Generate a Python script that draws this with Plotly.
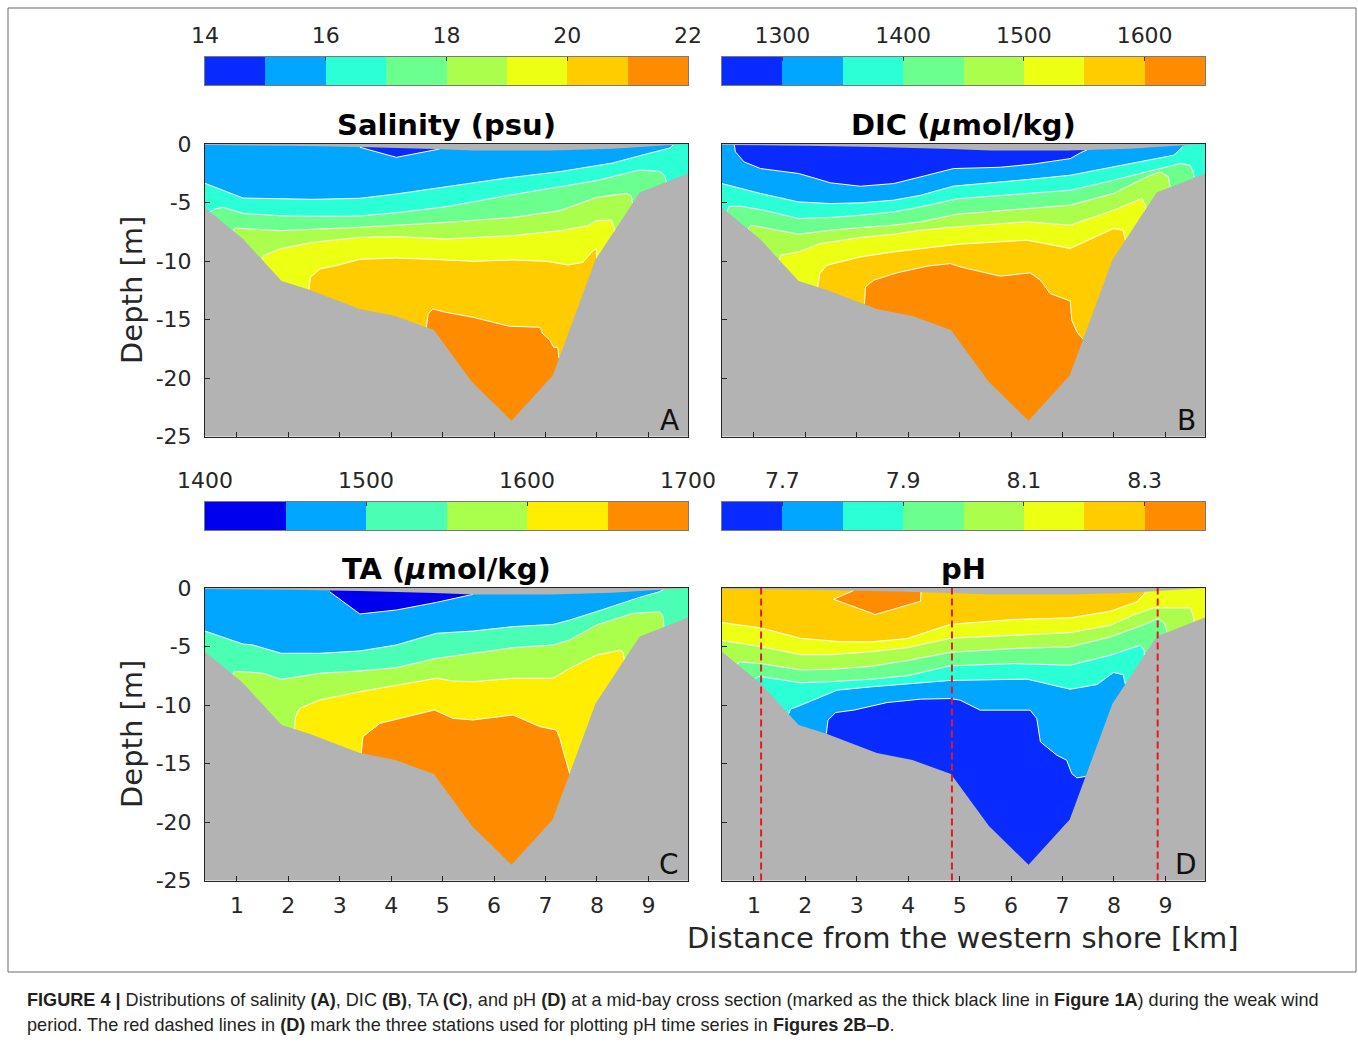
import plotly.graph_objects as go

# ======================= DATA =======================
# Bathymetry (bottom) and water-surface line, shared by all panels [km, m]
bathy_x = [0.38, 1.12, 1.87, 2.41, 3.39, 4.08, 4.83, 5.57, 6.34, 7.14, 7.97, 8.83, 9.77]
bathy_d = [-5.45, -8.12, -11.72, -12.45, -14.10, -14.70, -15.90, -20.35, -23.65, -19.78, -9.90, -4.15, -2.52]
surf_x = [0.38, 2.0, 3.39, 4.84, 5.6, 7.1, 8.3, 9.29, 9.77]
surf_d = [-0.08, -0.15, -0.25, -0.42, -0.55, -0.55, -0.4, -0.12, 0.0]

# ---- Salinity (psu): contour lines (depth of each isohaline) ----
sal_levels = [14, 15, 16, 17, 18, 19, 20, 21, 22]
sal_ticks = [14, 16, 18, 20, 22]
sal_lens_x = [3.39, 4.10, 4.94]                       # < 15 psu lens at the surface
sal_lens_d = [-0.28, -1.14, -0.43]
sal_16_x = [0.38, 1.12, 2.48, 3.39, 4.10, 5.07, 6.24, 7.28, 8.31, 8.96, 9.42, 9.48]
sal_16_d = [-3.36, -4.62, -4.73, -4.64, -4.27, -3.65, -2.91, -2.36, -1.62, -0.85, -0.34, -0.06]
sal_17_x = [0.47, 0.57, 0.73, 1.12, 1.83, 2.61, 3.39, 4.10, 5.07, 6.24, 7.28, 7.99, 8.83, 9.22, 9.32, 9.35]
sal_17_d = [-5.85, -5.56, -5.41, -5.93, -6.13, -6.18, -6.15, -5.87, -5.36, -4.42, -3.65, -3.13, -2.22, -2.34, -2.71, -3.30]
sal_18_x = [0.92, 0.96, 1.83, 3.39, 5.07, 6.37, 7.28, 7.99, 8.57, 8.67, 8.69]
sal_18_d = [-7.46, -7.18, -7.41, -7.12, -6.70, -6.27, -5.70, -4.56, -4.22, -4.42, -5.10]
sal_19_x = [1.49, 1.51, 1.83, 2.48, 3.39, 4.10, 5.07, 6.37, 7.28, 7.83, 7.99, 8.28, 8.35, 8.33]
sal_19_d = [-9.91, -9.57, -8.97, -8.40, -7.98, -7.92, -8.12, -7.83, -7.41, -6.98, -6.55, -6.50, -7.27, -7.55]
sal_20_x = [2.40, 2.43, 2.61, 2.93, 3.39, 4.10, 5.07, 5.59, 6.37, 7.02, 7.44, 7.73, 7.92, 7.99, 8.00]
sal_20_d = [-12.45, -11.40, -10.68, -10.40, -9.86, -9.74, -9.91, -10.03, -9.91, -10.03, -10.34, -10.11, -9.12, -8.97, -9.80]
sal_21_x = [4.68, 4.72, 4.81, 5.07, 5.59, 6.30, 6.56, 6.89, 6.95, 7.08, 7.16, 7.24, 7.26]
sal_21_d = [-15.70, -14.53, -14.10, -14.39, -14.81, -15.58, -15.61, -15.67, -16.24, -16.75, -17.38, -17.38, -18.30]

# ---- DIC (umol/kg) ----
dic_levels = [1250, 1300, 1350, 1400, 1450, 1500, 1550, 1600, 1650]
dic_ticks = [1300, 1400, 1500, 1600]
dic_lens_x = [0.62, 0.64, 0.81, 1.13, 1.87, 2.49, 3.07, 3.72, 4.24, 4.88, 5.79, 6.44, 7.15, 7.35, 7.57]
dic_lens_d = [-0.10, -0.67, -1.53, -2.10, -2.52, -3.32, -3.61, -3.38, -2.81, -2.10, -1.99, -1.71, -1.25, -0.75, -0.30]
dic_1350_x = [0.38, 1.13, 1.87, 2.49, 3.07, 3.72, 4.24, 4.88, 6.31, 7.15, 7.99, 8.64, 9.16, 9.35]
dic_1350_d = [-3.38, -4.23, -4.95, -5.09, -5.03, -4.80, -4.38, -3.60, -3.04, -2.67, -1.95, -1.38, -0.96, -0.19]
dic_1400_x = [0.48, 0.52, 0.74, 1.19, 1.87, 2.49, 3.07, 3.72, 4.24, 4.95, 6.31, 7.15, 7.99, 8.64, 9.29, 9.48, 9.54, 9.56]
dic_1400_d = [-5.77, -5.32, -5.32, -5.66, -6.37, -6.28, -6.09, -5.80, -5.37, -4.68, -4.23, -3.95, -3.09, -2.38, -1.67, -1.81, -2.38, -2.85]
dic_1450_x = [0.87, 0.94, 1.87, 2.49, 3.07, 3.72, 4.24, 4.95, 6.31, 7.15, 7.99, 8.64, 8.90, 9.06, 9.09]
dic_1450_d = [-7.42, -6.94, -7.71, -7.37, -7.14, -6.94, -6.65, -6.00, -5.52, -5.23, -4.23, -2.81, -2.38, -2.81, -3.70]
dic_1500_x = [1.49, 1.52, 1.87, 2.29, 3.07, 3.72, 4.24, 4.95, 6.31, 7.15, 7.99, 8.54, 8.61, 8.62]
dic_1500_d = [-10.00, -9.50, -9.22, -8.51, -7.99, -7.71, -7.37, -7.08, -6.65, -6.94, -5.66, -4.66, -5.23, -5.60]
dic_1550_x = [2.24, 2.28, 2.42, 3.07, 3.72, 4.24, 4.95, 6.31, 7.15, 7.99, 8.18, 8.22]
dic_1550_d = [-12.22, -11.07, -10.36, -9.65, -9.22, -8.93, -8.58, -8.22, -8.93, -7.23, -7.37, -8.20]
dic_1600_x = [3.15, 3.17, 3.33, 3.78, 4.37, 4.82, 5.01, 5.79, 6.37, 6.57, 6.76, 7.15, 7.18, 7.28, 7.40]
dic_1600_d = [-13.65, -12.21, -11.64, -11.01, -10.44, -10.22, -10.50, -11.30, -11.01, -11.64, -12.78, -13.41, -15.06, -16.06, -16.70]

# ---- TA (umol/kg) ----
ta_levels = [1400, 1450, 1500, 1550, 1600, 1650, 1700]
ta_ticks = [1400, 1500, 1600, 1700]
ta_lens_x = [2.80, 3.39, 4.10, 4.88, 5.59]
ta_lens_d = [-0.31, -2.22, -1.88, -1.23, -0.54]
ta_1500_x = [0.38, 1.12, 1.31, 1.86, 2.61, 3.39, 4.10, 4.88, 5.59, 6.37, 7.15, 7.47, 7.99, 8.83, 9.22, 9.32]
ta_1500_d = [-3.68, -4.79, -4.87, -5.58, -5.58, -5.38, -4.87, -3.87, -3.68, -3.30, -3.11, -2.74, -2.02, -0.80, -0.31, -0.03]
ta_1550_x = [0.92, 0.94, 1.12, 1.51, 1.86, 2.61, 3.39, 4.10, 4.88, 5.59, 6.37, 7.15, 7.47, 7.99, 8.70, 9.22, 9.29, 9.30]
ta_1550_d = [-7.49, -7.15, -7.15, -7.29, -7.81, -7.29, -7.09, -6.81, -6.01, -5.58, -5.10, -4.87, -4.44, -3.16, -2.17, -2.02, -2.45, -3.30]
ta_1600_x = [2.12, 2.14, 2.22, 2.61, 3.39, 4.10, 4.88, 5.20, 5.59, 6.37, 7.15, 7.47, 7.99, 8.44, 8.51, 8.53]
ta_1600_d = [-12.05, -11.00, -10.29, -9.57, -8.86, -8.29, -7.72, -7.95, -8.01, -7.72, -7.72, -6.87, -5.73, -5.33, -5.50, -6.15]
ta_1650_x = [3.42, 3.45, 3.78, 4.29, 4.84, 5.20, 5.59, 6.37, 6.89, 7.21, 7.28, 7.34, 7.47]
ta_1650_d = [-14.10, -12.71, -11.57, -11.00, -10.43, -11.14, -11.28, -10.85, -11.85, -12.14, -12.85, -13.85, -15.85]

# ---- pH ----
ph_levels = [7.6, 7.7, 7.8, 7.9, 8.0, 8.1, 8.2, 8.3, 8.4]
ph_ticks = [7.7, 7.9, 8.1, 8.3]
ph_lens_x = [2.94, 2.55, 3.36, 4.24, 4.25]             # > 8.3 lens at the surface
ph_lens_d = [-0.22, -0.96, -2.27, -1.13, -0.22]
ph_82_x = [0.38, 1.13, 1.91, 2.68, 3.27, 3.98, 4.82, 6.05, 7.15, 7.93, 8.44, 8.61, 8.63]
ph_82_d = [-2.95, -3.41, -4.30, -4.59, -4.60, -4.32, -3.10, -2.69, -2.55, -1.98, -1.19, -0.39, -0.19]
ph_81_x = [0.38, 1.13, 1.91, 2.49, 3.27, 3.98, 4.82, 6.05, 7.15, 7.93, 8.38, 8.77, 9.48, 9.54, 9.56]
ph_81_d = [-4.50, -5.00, -5.70, -5.70, -5.45, -5.10, -4.30, -4.03, -3.81, -3.18, -2.30, -1.70, -1.70, -2.32, -2.85]
ph_80_x = [0.68, 0.71, 1.13, 1.91, 2.49, 3.27, 3.98, 4.82, 6.05, 7.15, 7.93, 8.64, 8.86, 8.99, 9.03]
ph_80_d = [-6.54, -6.31, -6.46, -7.00, -6.95, -6.70, -6.20, -5.50, -5.17, -5.03, -4.18, -3.04, -2.61, -3.04, -3.80]
ph_79_x = [1.03, 1.07, 1.13, 1.91, 2.49, 3.27, 3.98, 4.82, 6.05, 7.15, 7.93, 8.51, 8.59, 8.59]
ph_79_d = [-7.79, -7.59, -7.57, -8.10, -8.00, -7.80, -7.50, -6.65, -6.46, -6.60, -5.74, -4.89, -5.32, -5.75]
ph_78_x = [1.68, 1.71, 1.91, 2.62, 3.27, 3.98, 4.82, 6.31, 7.15, 7.67, 7.99, 8.18, 8.22]
ph_78_d = [-10.73, -10.36, -10.02, -8.73, -8.45, -8.17, -7.90, -7.79, -8.65, -8.25, -7.22, -7.40, -8.20]
ph_77_x = [2.41, 2.44, 2.59, 2.94, 3.59, 4.24, 4.82, 5.01, 5.40, 6.37, 6.50, 6.57, 6.89, 7.08, 7.18, 7.28, 7.45]
ph_77_d = [-12.44, -11.30, -10.64, -10.44, -9.79, -9.50, -9.45, -9.59, -10.44, -10.44, -11.16, -13.15, -14.29, -14.72, -15.86, -16.23, -16.10]

stations_km = [1.14, 4.85, 8.85]   # red dashed lines in panel D

x_ticks = [1, 2, 3, 4, 5, 6, 7, 8, 9]
depth_ticks = [0, -5, -10, -15, -20, -25]

caption_1 = ("<b>FIGURE 4 |</b> Distributions of salinity <b>(A)</b>, DIC <b>(B)</b>, TA <b>(C)</b>, and pH <b>(D)</b> "
             "at a mid-bay cross section (marked as the thick black line in <b>Figure 1A</b>) during the weak wind")
caption_2 = ("period. The red dashed lines in <b>(D)</b> mark the three stations used for plotting pH time series in "
             "<b>Figures 2B–D</b>.")

# ======================= STYLE =======================
W, H = 1358, 1043
XMIN, XMAX = 0.38, 9.77
YMIN, YMAX = -25, 0
FLOOR = min(bathy_d) - 0.5      # colour fills stop just below the deepest bottom (hidden by the grey)
DEEP, CEIL = -40, 2
PAL8 = ['#0A2BFF', '#00A6FF', '#2AFFD6', '#6BFF8E', '#ABFF4C', '#EDFF12', '#FFCC00', '#FF8C00']
PAL6 = ['#0000EE', '#00A6FF', '#4AFFB3', '#AAFF4C', '#FFEE00', '#FF8C00']
GRAY = '#B3B3B3'
INK = '#262626'
FONT = 'DejaVu Sans'


def px(x):
    return x / W


def py(y):
    return 1 - y / H


def band_color(levels, pal, value):
    step = levels[1] - levels[0]
    i = int(round((value - levels[0]) / step - 0.5))
    return pal[max(0, min(len(pal) - 1, i))]


panels = [
    dict(title='<b>Salinity (psu)</b>', letter='A', levels=sal_levels, ticks=sal_ticks, pal=PAL8,
         base=15.5, lens=(sal_lens_x, sal_lens_d, 14.5), sign=+1,
         bounds=[(sal_16_x, sal_16_d, 16), (sal_17_x, sal_17_d, 17), (sal_18_x, sal_18_d, 18),
                 (sal_19_x, sal_19_d, 19), (sal_20_x, sal_20_d, 20), (sal_21_x, sal_21_d, 21)],
         box=(205, 688, 144, 436.5), cbar=(57, 85)),
    dict(title='<b>DIC (<i>μ</i>mol/kg)</b>', letter='B', levels=dic_levels, ticks=dic_ticks, pal=PAL8,
         base=1325, lens=(dic_lens_x, dic_lens_d, 1275), sign=+1,
         bounds=[(dic_1350_x, dic_1350_d, 1350), (dic_1400_x, dic_1400_d, 1400), (dic_1450_x, dic_1450_d, 1450),
                 (dic_1500_x, dic_1500_d, 1500), (dic_1550_x, dic_1550_d, 1550), (dic_1600_x, dic_1600_d, 1600)],
         box=(722, 1205, 144, 436.5), cbar=(57, 85)),
    dict(title='<b>TA (<i>μ</i>mol/kg)</b>', letter='C', levels=ta_levels, ticks=ta_ticks, pal=PAL6,
         base=1475, lens=(ta_lens_x, ta_lens_d, 1425), sign=+1,
         bounds=[(ta_1500_x, ta_1500_d, 1500), (ta_1550_x, ta_1550_d, 1550),
                 (ta_1600_x, ta_1600_d, 1600), (ta_1650_x, ta_1650_d, 1650)],
         box=(205, 688, 588, 880.5), cbar=(502, 530)),
    dict(title='<b>pH</b>', letter='D', levels=ph_levels, ticks=ph_ticks, pal=PAL8,
         base=8.25, lens=(ph_lens_x, ph_lens_d, 8.35), sign=-1,
         bounds=[(ph_82_x, ph_82_d, 8.2), (ph_81_x, ph_81_d, 8.1), (ph_80_x, ph_80_d, 8.0),
                 (ph_79_x, ph_79_d, 7.9), (ph_78_x, ph_78_d, 7.8), (ph_77_x, ph_77_d, 7.7)],
         box=(722, 1205, 588, 880.5), cbar=(502, 530)),
]


def below_poly(xs, ds):
    xs, ds = list(xs), list(ds)
    if ds[-1] > -0.5 and xs[-1] < XMAX:   # isoline reaches the surface: continue along the top
        xs, ds = xs + [XMAX], ds + [CEIL]
    return [xs[0]] + xs + [xs[-1]], [FLOOR] + ds + [FLOOR]


def above_poly(xs, ds):
    return [xs[0]] + list(xs) + [xs[-1]], [CEIL] + list(ds) + [CEIL]


fig = go.Figure()
shapes, annotations = [], []
layout = dict(width=W, height=H, autosize=False, margin=dict(l=0, r=0, t=0, b=0, pad=0),
              paper_bgcolor='white', plot_bgcolor='white', showlegend=False,
              font=dict(family=FONT, color=INK))

for k, p in enumerate(panels, start=1):
    xa, ya = ('x' if k == 1 else f'x{k}'), ('y' if k == 1 else f'y{k}')
    lv, pal, sign = p['levels'], p['pal'], p['sign']
    step = lv[1] - lv[0]
    x0p, x1p, y0p, y1p = p['box']

    # base colour of the section: the whole water column above the bottom
    fx, fy = above_poly(bathy_x, bathy_d)
    fig.add_trace(go.Scatter(x=fx, y=fy, xaxis=xa, yaxis=ya, mode='lines', fill='toself',
                             fillcolor=band_color(lv, pal, p['base']), line=dict(width=0), hoverinfo='skip'))

    lines = []
    lx, ld, lval = p['lens']
    fx, fy = above_poly(lx, ld)
    fig.add_trace(go.Scatter(x=fx, y=fy, xaxis=xa, yaxis=ya, mode='lines', fill='toself',
                             fillcolor=band_color(lv, pal, lval), line=dict(width=0), hoverinfo='skip'))
    lines.append((lx, ld))
    for bx, bd, level in p['bounds']:
        fx, fy = below_poly(bx, bd)
        fig.add_trace(go.Scatter(x=fx, y=fy, xaxis=xa, yaxis=ya, mode='lines', fill='toself',
                                 fillcolor=band_color(lv, pal, level + sign * step / 2),
                                 line=dict(width=0), hoverinfo='skip'))
        lines.append((bx, bd))
    for bx, bd in lines:
        fig.add_trace(go.Scatter(x=bx, y=bd, xaxis=xa, yaxis=ya, mode='lines',
                                 line=dict(color='white', width=1), hoverinfo='skip'))
    # bottom and surface
    fig.add_trace(go.Scatter(x=[bathy_x[0]] + bathy_x + [bathy_x[-1]], y=[DEEP] + bathy_d + [DEEP],
                             xaxis=xa, yaxis=ya, mode='lines', fill='toself', fillcolor=GRAY,
                             line=dict(width=0), hoverinfo='skip'))
    fig.add_trace(go.Scatter(x=[surf_x[0]] + surf_x + [surf_x[-1]], y=[CEIL] + surf_d + [CEIL],
                             xaxis=xa, yaxis=ya, mode='lines', fill='toself', fillcolor=GRAY,
                             line=dict(width=0), hoverinfo='skip'))

    showx = k in (3, 4)
    showy = k in (1, 3)
    layout['xaxis' if k == 1 else f'xaxis{k}'] = dict(
        domain=[px(x0p), px(x1p)], range=[XMIN, XMAX], anchor=ya, tickvals=x_ticks, automargin=False,
        ticks='inside', ticklen=5, tickcolor=INK, showline=True, linecolor=INK, linewidth=1, mirror=True,
        showgrid=False, zeroline=False, showticklabels=showx, tickfont=dict(size=22, color=INK),
        ticklabelstandoff=5)
    layout['yaxis' if k == 1 else f'yaxis{k}'] = dict(
        domain=[py(y1p), py(y0p)], range=[YMIN, YMAX], anchor=xa, tickvals=depth_ticks, automargin=False,
        ticktext=['%d' % v for v in depth_ticks],
        ticks='inside', ticklen=5, tickcolor=INK, showline=True, linecolor=INK, linewidth=1, mirror=True,
        showgrid=False, zeroline=False, showticklabels=showy, tickfont=dict(size=22, color=INK),
        ticklabelstandoff=8)

    # ---- colour bar (own small axes) ----
    c = k + 4
    cxa, cya = f'x{c}', f'y{c}'
    fig.add_trace(go.Heatmap(x=lv, y=[0], z=[list(range(len(lv) - 1))], xaxis=cxa, yaxis=cya,
                             colorscale=[[i / (len(lv) - 1), pal[j]] for j in range(len(lv) - 1)
                                         for i in (j, j + 1)],
                             zmin=-0.5, zmax=len(lv) - 1.5, showscale=False, hoverinfo='skip'))
    cb0, cb1 = p['cbar']
    layout[f'xaxis{c}'] = dict(domain=[px(x0p), px(x1p)], range=[lv[0], lv[-1]], anchor=cya, side='top',
                               tickvals=p['ticks'], ticktext=['%g' % t for t in p['ticks']], automargin=False,
                               ticks='inside', ticklen=4, tickcolor='#3A3A3A', showline=True,
                               linecolor='#7A7A7A', linewidth=1, mirror=True, showgrid=False, zeroline=False,
                               tickfont=dict(size=22, color=INK), ticklabelstandoff=4)
    layout[f'yaxis{c}'] = dict(domain=[py(cb1), py(cb0)], range=[-0.5, 0.5], anchor=cxa, showticklabels=False,
                               ticks='', showline=True, linecolor='#7A7A7A', linewidth=1, mirror=True,
                               showgrid=False, zeroline=False, automargin=False)

    # titles and panel letters
    annotations.append(dict(text=p['title'], x=px((x0p + x1p) / 2), y=py(125), xref='paper', yref='paper',
                            showarrow=False, xanchor='center', yanchor='middle',
                            font=dict(size=29, color='black', family=FONT)))
    if k in (3, 4):
        annotations[-1]['y'] = py(569)
    annotations.append(dict(text=p['letter'], x=px(x1p - 19), y=py(y1p - 16), xref='paper', yref='paper',
                            showarrow=False, xanchor='center', yanchor='middle',
                            font=dict(size=28, color='#111111', family=FONT)))

# station lines in panel D
for s in stations_km:
    shapes.append(dict(type='line', xref='x4', yref='y4 domain', x0=s, x1=s, y0=0, y1=1,
                       line=dict(color='#E41A1C', width=2, dash='7px,4px'), layer='above'))

# axis titles
for yc in (290, 734):
    annotations.append(dict(text='Depth [m]', x=px(132), y=py(yc), xref='paper', yref='paper', textangle=-90,
                            showarrow=False, xanchor='center', yanchor='middle', font=dict(size=29, color=INK)))
annotations.append(dict(text='Distance from the western shore [km]', x=px(963), y=py(938), xref='paper',
                        yref='paper', showarrow=False, xanchor='center', yanchor='middle',
                        font=dict(size=29, color=INK)))

# outer frame
shapes.append(dict(type='rect', xref='paper', yref='paper', x0=px(8), x1=px(1356), y0=py(972), y1=py(8),
                   line=dict(color='#6A6A6A', width=1), fillcolor='rgba(0,0,0,0)', layer='above'))

# caption
cap_font = dict(family='Liberation Sans Narrow, Arial Narrow, Liberation Sans, Arial', size=18.1, color='#231F20')
for txt, yc in ((caption_1, 1000), (caption_2, 1025)):
    annotations.append(dict(text=txt, x=px(25), y=py(yc), xref='paper', yref='paper', showarrow=False,
                            xanchor='left', yanchor='middle', align='left', font=cap_font))

layout['shapes'] = shapes
layout['annotations'] = annotations
fig.update_layout(**layout)
fig.write_html('out.html')
